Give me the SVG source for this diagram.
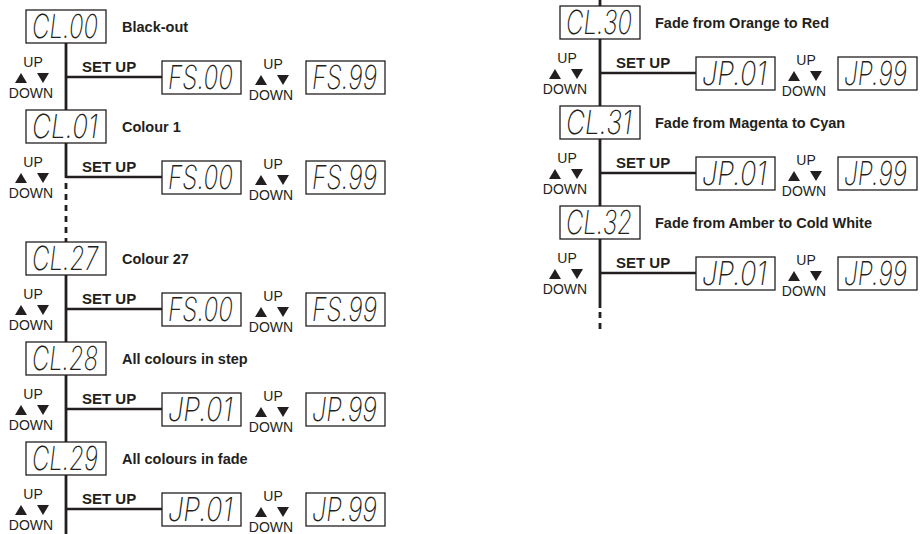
<svg xmlns="http://www.w3.org/2000/svg" xmlns:xlink="http://www.w3.org/1999/xlink" width="921" height="534" viewBox="0 0 921 534">
<style>
.box{fill:#fff;stroke:#231f20;stroke-width:1.3}
.seg{font-family:Inter,"DejaVu Sans","Liberation Sans",sans-serif;font-weight:200;font-style:italic;font-size:33px;fill:#231f20}
.segs{font-size:25px}
.desc{font-family:"Liberation Sans",Arial,sans-serif;font-weight:bold;font-size:14.5px;fill:#231f20}
.set{font-family:"Liberation Sans",Arial,sans-serif;font-weight:bold;font-size:15px;fill:#231f20}
.ud{font-family:"Liberation Sans",Arial,sans-serif;font-size:14px;fill:#231f20;text-anchor:middle}
.tri{fill:#231f20}
.line{stroke:#231f20;stroke-width:2.8;fill:none}
.hline{stroke:#231f20;stroke-width:2.5;fill:none}
.dash{stroke:#231f20;stroke-width:2.8;fill:none;stroke-dasharray:6 5}
</style>
<defs>
<g id="updown">
<text class="ud" x="0" y="-10">UP</text>
<polygon class="tri" points="-18,6 -6,6 -12,-4"/>
<polygon class="tri" points="4,-4 16,-4 10,6"/>
<text class="ud" x="-2" y="21">DOWN</text>
</g>
</defs>
<g id="connectors">
<line class="line" x1="66" y1="43" x2="66" y2="178"/>
<line class="dash" x1="66" y1="183" x2="66" y2="242"/>
<line class="line" x1="66" y1="275" x2="66" y2="534"/>
<line class="hline" x1="66" y1="77" x2="162" y2="77"/>
<line class="hline" x1="66" y1="177" x2="162" y2="177"/>
<line class="hline" x1="66" y1="309" x2="162" y2="309"/>
<line class="hline" x1="66" y1="409" x2="162" y2="409"/>
<line class="hline" x1="66" y1="509" x2="162" y2="509"/>
<line class="line" x1="600" y1="0" x2="600" y2="308"/>
<line class="dash" x1="600" y1="312" x2="600" y2="334"/>
<line class="hline" x1="600" y1="73" x2="696" y2="73"/>
<line class="hline" x1="600" y1="173" x2="696" y2="173"/>
<line class="hline" x1="600" y1="273" x2="696" y2="273"/>
</g>
<!-- Left column -->
<g id="cl00">
<rect class="box" x="26" y="10" width="80" height="33"/>
<text class="seg" x="32" y="38" textLength="66" lengthAdjust="spacingAndGlyphs">CL.00</text>
<text class="desc" x="122" y="32">Black-out</text>
</g>
<g id="row00">
<use xlink:href="#updown" x="33" y="77"/>
<text class="set" x="82" y="72">SET UP</text>
<rect class="box" x="162" y="61" width="79" height="33"/>
<text class="seg" x="168" y="89" textLength="65" lengthAdjust="spacingAndGlyphs">FS.00</text>
<use xlink:href="#updown" x="273" y="79"/>
<rect class="box" x="306" y="61" width="79" height="33"/>
<text class="seg" x="312" y="89" textLength="65" lengthAdjust="spacingAndGlyphs">FS.99</text>
</g>
<g id="cl01">
<rect class="box" x="26" y="110" width="80" height="33"/>
<text class="seg" x="32" y="138" textLength="66" lengthAdjust="spacingAndGlyphs">CL.01</text>
<text class="desc" x="122" y="132">Colour 1</text>
</g>
<g id="row01">
<use xlink:href="#updown" x="33" y="177"/>
<text class="set" x="82" y="172">SET UP</text>
<rect class="box" x="162" y="161" width="79" height="33"/>
<text class="seg" x="168" y="189" textLength="65" lengthAdjust="spacingAndGlyphs">FS.00</text>
<use xlink:href="#updown" x="273" y="179"/>
<rect class="box" x="306" y="161" width="79" height="33"/>
<text class="seg" x="312" y="189" textLength="65" lengthAdjust="spacingAndGlyphs">FS.99</text>
</g>
<g id="cl27">
<rect class="box" x="26" y="242" width="80" height="33"/>
<text class="seg" x="32" y="270" textLength="66" lengthAdjust="spacingAndGlyphs">CL.27</text>
<text class="desc" x="122" y="264">Colour 27</text>
</g>
<g id="row27">
<use xlink:href="#updown" x="33" y="309"/>
<text class="set" x="82" y="304">SET UP</text>
<rect class="box" x="162" y="293" width="79" height="33"/>
<text class="seg" x="168" y="321" textLength="65" lengthAdjust="spacingAndGlyphs">FS.00</text>
<use xlink:href="#updown" x="273" y="311"/>
<rect class="box" x="306" y="293" width="79" height="33"/>
<text class="seg" x="312" y="321" textLength="65" lengthAdjust="spacingAndGlyphs">FS.99</text>
</g>
<g id="cl28">
<rect class="box" x="26" y="342" width="80" height="33"/>
<text class="seg" x="32" y="370" textLength="66" lengthAdjust="spacingAndGlyphs">CL.28</text>
<text class="desc" x="122" y="364">All colours in step</text>
</g>
<g id="row28">
<use xlink:href="#updown" x="33" y="409"/>
<text class="set" x="82" y="404">SET UP</text>
<rect class="box" x="162" y="393" width="79" height="33"/>
<text class="seg" x="168" y="421" textLength="65" lengthAdjust="spacingAndGlyphs">JP.01</text>
<use xlink:href="#updown" x="273" y="411"/>
<rect class="box" x="306" y="393" width="79" height="33"/>
<text class="seg" x="312" y="421" textLength="65" lengthAdjust="spacingAndGlyphs">JP.99</text>
</g>
<g id="cl29">
<rect class="box" x="26" y="442" width="80" height="33"/>
<text class="seg" x="32" y="470" textLength="66" lengthAdjust="spacingAndGlyphs">CL.29</text>
<text class="desc" x="122" y="464">All colours in fade</text>
</g>
<g id="row29">
<use xlink:href="#updown" x="33" y="509"/>
<text class="set" x="82" y="504">SET UP</text>
<rect class="box" x="162" y="493" width="79" height="33"/>
<text class="seg" x="168" y="521" textLength="65" lengthAdjust="spacingAndGlyphs">JP.01</text>
<use xlink:href="#updown" x="273" y="511"/>
<rect class="box" x="306" y="493" width="79" height="33"/>
<text class="seg" x="312" y="521" textLength="65" lengthAdjust="spacingAndGlyphs">JP.99</text>
</g>
<!-- Right column -->
<g id="cl30">
<rect class="box" x="560" y="6" width="80" height="33"/>
<text class="seg" x="566" y="34" textLength="66" lengthAdjust="spacingAndGlyphs">CL.30</text>
<text class="desc" x="655" y="28">Fade from Orange to Red</text>
</g>
<g id="row30">
<use xlink:href="#updown" x="567" y="73"/>
<text class="set" x="616" y="68">SET UP</text>
<rect class="box" x="696" y="57" width="79" height="33"/>
<text class="seg" x="702" y="85" textLength="65" lengthAdjust="spacingAndGlyphs">JP.01</text>
<use xlink:href="#updown" x="806" y="75"/>
<rect class="box" x="838" y="57" width="79" height="33"/>
<text class="seg segs" transform="translate(844,85) scale(1,1.32)" x="0" y="0" textLength="63" lengthAdjust="spacingAndGlyphs">JP.99</text>
</g>
<g id="cl31">
<rect class="box" x="560" y="106" width="80" height="33"/>
<text class="seg" x="566" y="134" textLength="66" lengthAdjust="spacingAndGlyphs">CL.31</text>
<text class="desc" x="655" y="128">Fade from Magenta to Cyan</text>
</g>
<g id="row31">
<use xlink:href="#updown" x="567" y="173"/>
<text class="set" x="616" y="168">SET UP</text>
<rect class="box" x="696" y="157" width="79" height="33"/>
<text class="seg" x="702" y="185" textLength="65" lengthAdjust="spacingAndGlyphs">JP.01</text>
<use xlink:href="#updown" x="806" y="175"/>
<rect class="box" x="838" y="157" width="79" height="33"/>
<text class="seg segs" transform="translate(844,185) scale(1,1.32)" x="0" y="0" textLength="63" lengthAdjust="spacingAndGlyphs">JP.99</text>
</g>
<g id="cl32">
<rect class="box" x="560" y="206" width="80" height="33"/>
<text class="seg" x="566" y="234" textLength="66" lengthAdjust="spacingAndGlyphs">CL.32</text>
<text class="desc" x="655" y="228">Fade from Amber to Cold White</text>
</g>
<g id="row32">
<use xlink:href="#updown" x="567" y="273"/>
<text class="set" x="616" y="268">SET UP</text>
<rect class="box" x="696" y="257" width="79" height="33"/>
<text class="seg" x="702" y="285" textLength="65" lengthAdjust="spacingAndGlyphs">JP.01</text>
<use xlink:href="#updown" x="806" y="275"/>
<rect class="box" x="838" y="257" width="79" height="33"/>
<text class="seg segs" transform="translate(844,285) scale(1,1.32)" x="0" y="0" textLength="63" lengthAdjust="spacingAndGlyphs">JP.99</text>
</g>
</svg>
